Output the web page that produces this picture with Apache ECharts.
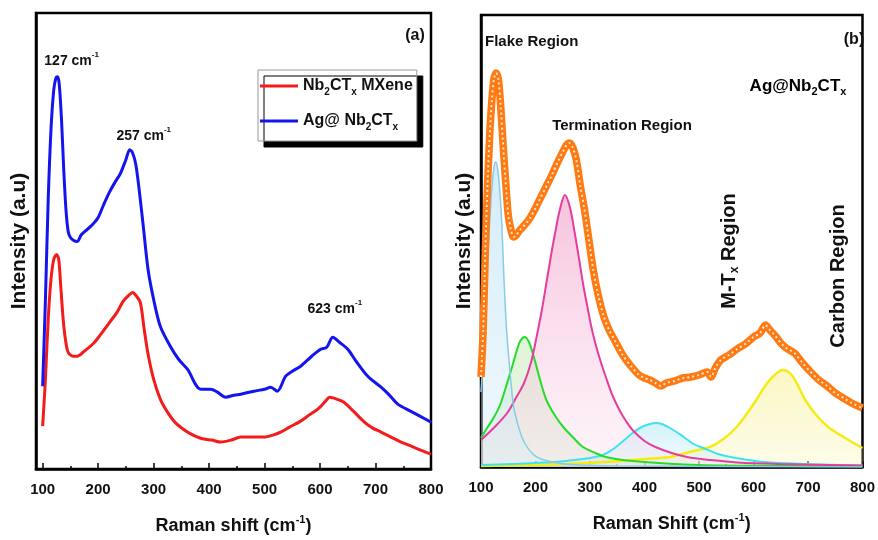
<!DOCTYPE html>
<html><head><meta charset="utf-8">
<script src="https://cdn.jsdelivr.net/npm/echarts@6/dist/echarts.min.js"></script>
<style>html,body{margin:0;padding:0;background:#fff}#c{width:878px;height:540px}</style>
</head><body><div id="c"></div>
<script>
// ---------- Panel (a) ----------
const tickValues = [100, 200, 300, 400, 500, 600, 700, 800];
const minorTickValues = [150, 250, 350, 450, 550, 650, 750];

const blueShift = [100,105,110,115,120,124,127,130,134,138,142,146,150,156,162,170,180,190,200,210,220,230,240,250,257,262,268,275,282,290,300,312,330,345,361,385,403,415,430,445,457,481,500,511,523,538,550,565,585,601,612,623,635,650,665,686,710,725,740,763,780,800];
const blueIntensity = [83,170,270,340,380,392,393,385,350,300,260,238,232,229,228,235,240,245,252,265,277,287,296,310,320,317,305,275,240,200,170,143,123,110,100,80,80,77,72,74,75,78,80,82,78,93,98,103,113,120,122,132,127,120,108,93,82,74,65,58,53,47];

const redShift = [100,105,110,115,120,125,129,133,137,141,146,155,162,175,190,198,210,222,234,245,255,262,268,276,283,290,300,312,325,340,361,375,390,405,421,440,457,480,499,515,529,545,565,580,596,610,617,625,643,660,680,695,710,728,746,760,777,800];
const redIntensity = [43,90,150,190,210,215,210,180,150,130,117,113,113,118,125,130,139,148,157,168,174,177,174,167,140,115,90,70,57,46,37,33,30,29,27,29,32,32,32,34,37,42,48,54,60,68,72,71,67,58,47,41,37,32,27,24,20,15];

const peakLabelsA = [
  {shift: 127, intensity: 393, text: '127 cm', dx: 14, dy: -16},
  {shift: 257, intensity: 320, text: '257 cm', dx: 14, dy: -14},
  {shift: 623, intensity: 132, text: '623 cm', dx: 2, dy: -28}
];

// ---------- Panel (b) ----------
const orangeShift = [100,104,108,112,116,120,124,128,132,136,140,145,150,155,160,165,170,180,190,200,210,220,230,240,250,257,262,268,275,282,290,298,306,315,325,335,345,360,375,390,400,410,420,430,440,455,470,485,500,515,522,530,540,555,570,585,600,612,622,630,640,650,660,675,690,705,720,735,750,765,780,800];
const orangeIntensity = [90,137,217,282,332,367,389,394,387,362,327,287,252,237,230,232,236,242,249,259,270,281,292,304,315,322,324,320,307,282,257,227,197,172,151,137,127,112,101,92,89,87,84,81,84,86,89,90,92,95,90,99,107,112,118,123,130,134,142,137,131,124,119,114,104,95,87,81,74,69,64,59];

const flakeShift = [100,104,108,112,116,120,124,127,130,134,138,142,146,150,155,160,170,180,195,210,240,280,350,500,800];
const flakeIntensity = [75,110,160,205,245,280,300,305,300,280,245,190,145,115,85,60,38,24,13,8,4,2,1,0.5,0];

const greenShift = [100,110,124,135,148,158,166,172,180,188,197,208,220,235,251,270,287,310,329,360,400,500,650,800];
const greenIntensity = [29,38,50,62,84,102,117,126,130,125,110,88,67,52,40,29,20,14,10,7,5,2,1,0.5];

const pinkShift = [100,125,148,165,179,192,202,212,220,228,236,245,254,263,272,280,287,296,305,317,329,341,354,366,378,400,420,450,478,520,570,650,800];
const pinkIntensity = [27,40,54,70,84,105,130,158,184,210,234,258,272,260,234,208,184,158,134,110,90,72,57,46,37,26,20,14,10,7,4.5,3,1.5];

const cyanShift = [100,200,256,318,340,363,378,395,410,420,432,450,472,490,508,535,568,620,700,800];
const cyanIntensity = [2,4,6,11,17,27,34,40,43,44,43,38,30,23,19,13,9,5,3,1.5];

const yellowShift = [100,250,327,400,447,490,520,545,569,590,605,620,635,654,670,683,695,715,737,765,800];
const yellowIntensity = [1,3,5,8,10,16,20,28,40,55,67,80,90,97,92,80,67,52,40,30,19];

// ---------- helpers ----------
const zip = (xs, ys) => xs.map((x, i) => [x, ys[i]]);
const SANS = "'Liberation Sans',Arial,sans-serif";
const TXT = '#111';
const richBase = (size, color) => ({
  n: {fontSize: size, fontWeight: 'bold', fontFamily: SANS, color: color, lineHeight: size + 6},
  s: {fontSize: Math.round(size * 0.62), fontWeight: 'bold', fontFamily: SANS, color: color, verticalAlign: 'bottom', lineHeight: Math.round(size * 0.62)},
  p: {fontSize: Math.round(size * 0.6), fontWeight: 'bold', fontFamily: SANS, color: color, verticalAlign: 'top', lineHeight: Math.round(size * 0.6) + 2}
});

const chart = echarts.init(document.getElementById('c'), null, {renderer: 'canvas'});

const baseX = {
  type: 'value', max: 800,
  axisLine: {show: true, onZero: false, lineStyle: {color: '#000', width: 2.5}},
  axisTick: {show: true, inside: true, length: 6, lineStyle: {color: '#000', width: 1.5}},
  axisLabel: {margin: 13, fontSize: 15, fontWeight: 'bold', fontFamily: SANS, color: TXT},
  splitLine: {show: false},
  nameLocation: 'middle', nameGap: 45,
  nameTextStyle: {rich: richBase(18, TXT)}
};
const baseY = {
  type: 'value', min: 0,
  axisLine: {show: true, lineStyle: {color: '#000', width: 2.5}},
  axisTick: {show: false}, axisLabel: {show: false}, splitLine: {show: false},
  name: 'Intensity (a.u)', nameLocation: 'middle', nameGap: 6,
  nameTextStyle: {fontSize: 21, fontWeight: 'bold', fontFamily: SANS, color: TXT}
};

const fitSeries = (name, xs, ys, line, top, bottom, lw) => ({
  type: 'line', name: name, xAxisIndex: 2, yAxisIndex: 1,
  data: zip(xs, ys), smooth: 0.35, symbol: 'none',
  lineStyle: {color: line, width: lw},
  areaStyle: {color: new echarts.graphic.LinearGradient(0, 0, 0, 1, [
    {offset: 0, color: top}, {offset: 1, color: bottom}])},
  z: 2
});

const option = {
  animation: false,
  backgroundColor: '#fff',
  grid: [
    {left: 36, right: 447, top: 13, bottom: 70, show: true, borderColor: '#000', borderWidth: 2.5, backgroundColor: 'transparent'},
    {left: 481, right: 10, top: 15, bottom: 73, show: true, borderColor: '#000', borderWidth: 2.5, backgroundColor: 'transparent'}
  ],
  xAxis: [
    Object.assign({}, baseX, {gridIndex: 0, min: 88,
      axisTick: Object.assign({}, baseX.axisTick, {customValues: tickValues}),
      axisLabel: Object.assign({}, baseX.axisLabel, {customValues: tickValues}),
      name: '{n|Raman shift (cm}{p|-1}{n|)}'}),
    {type: 'value', gridIndex: 0, min: 88, max: 800, position: 'bottom',
      axisLine: {show: false}, axisLabel: {show: false}, splitLine: {show: false},
      axisTick: {show: true, inside: true, length: 3, customValues: minorTickValues, lineStyle: {color: '#000', width: 1.5}}},
    Object.assign({}, baseX, {gridIndex: 1, min: 100, interval: 100,
      minorTick: {show: true, splitNumber: 2, length: 3, lineStyle: {color: '#000', width: 1.5}},
      name: '{n|Raman Shift (cm}{p|-1}{n|)}'})
  ],
  yAxis: [
    Object.assign({}, baseY, {gridIndex: 0, max: 457}),
    Object.assign({}, baseY, {gridIndex: 1, max: 452})
  ],
  legend: {
    data: ['Nb2CTx MXene', 'Ag@ Nb2CTx'],
    orient: 'vertical', left: 258, top: 70,
    padding: [8, 4, 9, 2], itemGap: 16, itemWidth: 38, itemHeight: 3, itemTextGap: 5,
    icon: 'rect',
    backgroundColor: '#fff', borderColor: '#999', borderWidth: 1,
    shadowColor: '#000', shadowOffsetX: 6, shadowOffsetY: 6, shadowBlur: 0,
    formatter: n => n === 'Nb2CTx MXene' ? '{n|Nb}{s|2}{n|CT}{s|x}{n| MXene}' : '{n|Ag@ Nb}{s|2}{n|CT}{s|x}',
    textStyle: {rich: richBase(16, TXT)}
  },
  series: [
    {type: 'line', name: 'Nb2CTx MXene', xAxisIndex: 0, yAxisIndex: 0,
      data: zip(redShift, redIntensity), smooth: 0.3, symbol: 'none',
      lineStyle: {color: '#F51B1B', width: 3}, itemStyle: {color: '#F51B1B'}, z: 3},
    {type: 'line', name: 'Ag@ Nb2CTx', xAxisIndex: 0, yAxisIndex: 0,
      data: zip(blueShift, blueIntensity), smooth: 0.3, symbol: 'none',
      lineStyle: {color: '#1414EE', width: 3}, itemStyle: {color: '#1414EE'}, z: 3,
      markPoint: {
        symbol: 'circle', symbolSize: 1, itemStyle: {color: 'rgba(0,0,0,0)'},
        data: peakLabelsA.map(p => ({
          coord: [p.shift, p.intensity],
          label: {show: true, position: 'inside', offset: [p.dx, p.dy],
            formatter: '{n|' + p.text + '}{p|-1}', rich: richBase(14, TXT)}
        }))
      }},
    fitSeries('yellow', yellowShift, yellowIntensity, '#F4EC12', 'rgba(246,240,140,0.75)', 'rgba(250,248,200,0.6)', 2.5),
    fitSeries('cyan', cyanShift, cyanIntensity, '#3FE3F0', 'rgba(150,225,240,0.6)', 'rgba(200,240,248,0.4)', 2),
    fitSeries('green', greenShift, greenIntensity, '#25DC2A', 'rgba(180,230,160,0.6)', 'rgba(200,225,190,0.5)', 2),
    fitSeries('pink', pinkShift, pinkIntensity, '#E53D9E', 'rgba(238,140,190,0.75)', 'rgba(250,220,236,0.45)', 2),
    fitSeries('flake', flakeShift, flakeIntensity, '#86CBEA', 'rgba(160,215,240,0.65)', 'rgba(215,238,250,0.55)', 1.5),
    {type: 'line', name: 'data', xAxisIndex: 2, yAxisIndex: 1,
      data: zip(orangeShift, orangeIntensity), smooth: 0.3, symbol: 'none',
      lineStyle: {color: '#FF7A12', width: 7.5}, z: 5},
    {type: 'line', name: 'dots', xAxisIndex: 2, yAxisIndex: 1,
      data: zip(orangeShift, orangeIntensity), smooth: 0.3, symbol: 'none',
      lineStyle: {color: '#FFE6CC', width: 2, type: [2, 3]}, z: 6}
  ],
  graphic: [
    {type: 'text', x: 415, y: 36, style: {text: '(a)', font: 'bold 16px ' + SANS, fill: TXT, align: 'center', verticalAlign: 'middle'}},
    {type: 'text', x: 854, y: 40, style: {text: '(b)', font: 'bold 16px ' + SANS, fill: TXT, align: 'center', verticalAlign: 'middle'}},
    {type: 'text', x: 485, y: 42, style: {text: 'Flake Region', font: 'bold 15px ' + SANS, fill: TXT, align: 'left', verticalAlign: 'middle'}},
    {type: 'text', x: 622, y: 126, style: {text: 'Termination Region', font: 'bold 15px ' + SANS, fill: TXT, align: 'center', verticalAlign: 'middle'}},
    {type: 'text', x: 798, y: 86, style: {text: '{n|Ag@Nb}{s|2}{n|CT}{s|x}', rich: richBase(17, '#F21C1C'), align: 'center', verticalAlign: 'middle'}},
    {type: 'text', x: 729, y: 251, rotation: Math.PI / 2, style: {text: '{n|M-T}{s|x}{n| Region}',
      rich: {n: {fontSize: 20, fontWeight: 'bold', fontFamily: SANS, fill: TXT, color: TXT, lineHeight: 24},
             s: {fontSize: 12, fontWeight: 'bold', fontFamily: SANS, fill: TXT, color: TXT, verticalAlign: 'bottom', lineHeight: 12}},
      align: 'center', verticalAlign: 'middle'}},
    {type: 'text', x: 838, y: 276, rotation: Math.PI / 2, style: {text: 'Carbon Region', font: 'bold 20px ' + SANS, fill: TXT, align: 'center', verticalAlign: 'middle'}}
  ]
};
chart.setOption(option);
</script></body></html>
